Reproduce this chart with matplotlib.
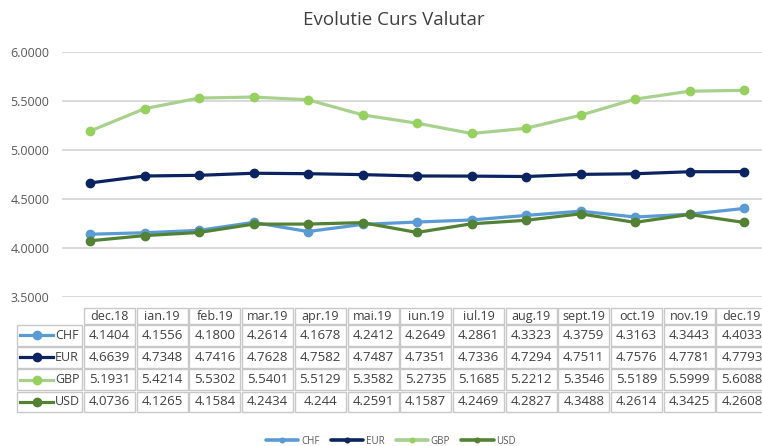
import matplotlib
matplotlib.use("Agg")
import matplotlib.pyplot as plt
from matplotlib.patches import Rectangle
from matplotlib.lines import Line2D

plt.rcParams['font.family'] = ['Open Sans', 'DejaVu Sans']

months = ["dec.18", "ian.19", "feb.19", "mar.19", "apr.19", "mai.19", "iun.19",
          "iul.19", "aug.19", "sept.19", "oct.19", "nov.19", "dec.19"]
chf = [4.1404, 4.1556, 4.1800, 4.2614, 4.1678, 4.2412, 4.2649, 4.2861, 4.3323, 4.3759, 4.3163, 4.3443, 4.4033]
eur = [4.6639, 4.7348, 4.7416, 4.7628, 4.7582, 4.7487, 4.7351, 4.7336, 4.7294, 4.7511, 4.7576, 4.7781, 4.7793]
gbp = [5.1931, 5.4214, 5.5302, 5.5401, 5.5129, 5.3582, 5.2735, 5.1685, 5.2212, 5.3546, 5.5189, 5.5999, 5.6088]
usd = [4.0736, 4.1265, 4.1584, 4.2434, 4.244, 4.2591, 4.1587, 4.2469, 4.2827, 4.3488, 4.2614, 4.3425, 4.2608]
series_names = ["CHF", "EUR", "GBP", "USD"]
yticks = [3.5, 4.0, 4.5, 5.0, 5.5, 6.0]

colors = {"CHF": "#5B9BD5", "EUR": "#0B2461", "GBP": "#A9D18E", "USD": "#548235"}
mcolors = {"CHF": "#5B9BD5", "EUR": "#0B2461", "GBP": "#96D160", "USD": "#548235"}
series = {"CHF": chf, "EUR": eur, "GBP": gbp, "USD": usd}
fmt = {"CHF": "{:.4f}", "EUR": "{:.4f}", "GBP": "{:.4f}", "USD": "{}"}

W, H = 762, 446
fig = plt.figure(figsize=(W / 100, H / 100), dpi=100)

# plot area (pixel geometry)
left_px, right_px, top_px, bot_px = 62, 770, 52, 297
p0_px, step_px = 90, 54.5
ax = fig.add_axes([left_px / W, 1 - bot_px / H, (right_px - left_px) / W, (bot_px - top_px) / H])
ax.set_xlim(-(p0_px - left_px) / step_px, (right_px - p0_px) / step_px)
ax.set_ylim(3.5, 6.0)

x = list(range(len(months)))
handles = []
z = {"CHF": 3, "EUR": 3, "GBP": 3, "USD": 4}
for name in series_names:
    ln, = ax.plot(x, series[name], color=colors[name], lw=2.3, marker='o', ms=6,
                  mfc=mcolors[name], mec=mcolors[name],
                  zorder=z[name], label=name, solid_capstyle='round', clip_on=False)
    handles.append(ln)

ax.set_yticks(yticks)
ax.set_yticklabels([f"{v:.4f}" for v in yticks], color="#595959", fontsize=9)
ax.tick_params(axis='y', length=0, pad=9)
ax.set_xticks([])
ax.grid(axis='y', color='#D0D0D0', lw=1.1)
ax.set_axisbelow(True)
for s in ax.spines.values():
    s.set_visible(False)

fig.text(394 / W, 1 - 20 / H, "Evolutie Curs Valutar", ha='center', va='center',
         fontsize=13.5, color="#404040")

# data table (figure pixel geometry)
ec = "#C8C8C8"
col0_px, col_pitch, col_w = 84, 52.7, 51
hdr_top, hdr_bot = 308, 324
row_top0, row_pitch, row_h = 325, 22.2, 20.5
lab_l, lab_r = 17, 82

def fx(p):
    return p / W

def fy(p):
    return 1 - p / H

for i, m in enumerate(months):
    cl = col0_px + col_pitch * i
    fig.add_artist(Rectangle((fx(cl), fy(hdr_bot)), col_w / W, (hdr_bot - hdr_top) / H,
                             transform=fig.transFigure, fill=False, ec=ec, lw=1))
    fig.text(fx(cl + col_w / 2), fy((hdr_top + hdr_bot) / 2 + 0.5), m, ha='center', va='center',
             fontsize=9, color="#404040")

for r, name in enumerate(series_names):
    t = row_top0 + r * row_pitch
    b = t + row_h
    yc = fy((t + b) / 2)
    fig.add_artist(Rectangle((fx(lab_l), fy(b)), (lab_r - lab_l) / W, row_h / H,
                             transform=fig.transFigure, fill=False, ec=ec, lw=1))
    fig.add_artist(Line2D([fx(20), fx(53)], [yc, yc], color=colors[name], lw=2.3))
    fig.add_artist(Line2D([fx(36.5)], [yc], color=mcolors[name], marker='o', ms=6, lw=0))
    fig.text(fx(55), yc, name, ha='left', va='center', fontsize=9, color="#404040")
    for i, v in enumerate(series[name]):
        cl = col0_px + col_pitch * i
        fig.add_artist(Rectangle((fx(cl), fy(b)), col_w / W, row_h / H,
                                 transform=fig.transFigure, fill=False, ec=ec, lw=1))
        fig.text(fx(cl + col_w / 2), yc, fmt[name].format(v), ha='center', va='center',
                 fontsize=9.5, color="#404040")

leg = fig.legend(handles=handles, loc='center', bbox_to_anchor=(391 / W, 1 - 441 / H), ncol=4,
                 frameon=False, fontsize=7, handlelength=3.3, columnspacing=1.2,
                 handletextpad=0.25, markerscale=0.55)
for t in leg.get_texts():
    t.set_color("#595959")
for h in leg.legend_handles:
    h.set_linewidth(2.6)

fig.savefig("out.png", dpi=100)
